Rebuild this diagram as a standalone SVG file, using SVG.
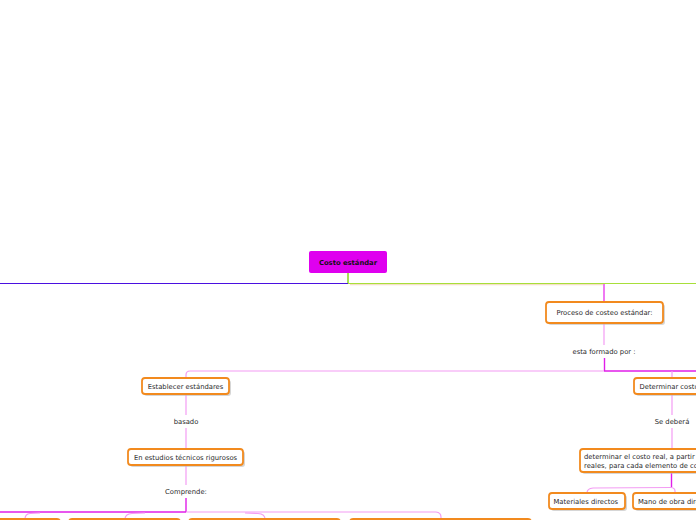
<svg xmlns="http://www.w3.org/2000/svg" width="696" height="520" viewBox="0 0 696 520">
<style>
.t{font-family:"DejaVu Sans",Verdana,sans-serif;font-size:6.8px;fill:#2a2a2a}
.c{text-anchor:middle}
.box{fill:#fff;stroke:#f28a1e;stroke-width:1.8}
.sh{fill:#bbb;opacity:0.6}
.pk{stroke:#f39cf3;stroke-width:1.2;fill:none}
.mg{stroke:#e01ee8;stroke-width:1.4;fill:none}
</style>
<rect width="696" height="520" fill="#fff"/>
<g id="connectors">
<line x1="348" y1="273" x2="348" y2="283" stroke="#8ad91a" stroke-width="1.5"/>
<line x1="0" y1="283.5" x2="348" y2="283.5" stroke="#4a10e0" stroke-width="1.1"/>
<line x1="348" y1="283.5" x2="696" y2="283.5" stroke="#a8df3a" stroke-width="1.1"/>
<line x1="350" y1="284.7" x2="603" y2="284.7" stroke="#ecc898" stroke-width="0.7"/>
<line x1="604" y1="284" x2="604" y2="302" stroke="#ea4cee" stroke-width="1.5"/>
<line x1="604" y1="323" x2="604" y2="345" class="pk"/>
<line x1="604.5" y1="358" x2="604.5" y2="371" class="mg"/>
<line x1="190" y1="371" x2="604" y2="371" class="pk"/>
<line x1="604" y1="371" x2="696" y2="371" class="mg"/>
<line x1="672" y1="371" x2="672" y2="378" class="pk"/>
<path d="M186 378 V375 Q186 371 190 371" class="pk"/>
<line x1="186" y1="394" x2="186" y2="415" class="pk"/>
<line x1="186" y1="428" x2="186" y2="449" class="pk"/>
<line x1="186" y1="465" x2="186" y2="485" class="pk"/>
<line x1="186" y1="498" x2="186" y2="512" class="mg"/>
<line x1="0" y1="512" x2="186" y2="512" class="mg"/>
<line x1="186" y1="512" x2="436" y2="512" class="pk"/>
<path d="M25 519 Q25 514 30 513.5 L40 513" class="pk"/>
<path d="M125 519 Q125 514 132 513.5 L145 513" class="pk"/>
<path d="M265 519 Q265 514 258 513.5 L245 513" class="pk"/>
<path d="M436 512 Q441 512.5 441 517 V519" class="pk"/>
<line x1="672" y1="394" x2="672" y2="415" class="pk"/>
<line x1="672" y1="428" x2="672" y2="449" class="pk"/>
<line x1="671.5" y1="472" x2="671.5" y2="487.5" class="mg"/>
<path d="M587 493 Q587 488.5 593 488 L671 487.5" class="pk"/>
<path d="M671 487.5 Q675 488 675 491 V493" class="pk"/>
</g>
<g id="root">
<rect x="309" y="251" width="78" height="22" rx="2" fill="#df00ef"/>
<text x="348" y="264.5" class="t c" style="font-weight:bold;fill:#111">Costo estándar</text>
</g>
<g id="proceso">
<rect x="548" y="304" width="117" height="21" rx="3" class="sh"/>
<rect x="546" y="302" width="117" height="21" rx="3" class="box"/>
<text x="604.5" y="315" class="t c">Proceso de costeo estándar:</text>
</g>
<g id="lbl-formado"><text x="604" y="353.5" class="t c">esta formado por :</text></g>
<g id="establecer">
<rect x="144" y="380" width="87" height="16" rx="3" class="sh"/>
<rect x="142" y="378" width="87" height="16" rx="3" class="box"/>
<text x="185.5" y="388.5" class="t c">Establecer estándares</text>
</g>
<g id="lbl-basado"><text x="186" y="423.5" class="t c">basado</text></g>
<g id="estudios">
<rect x="130" y="451" width="115" height="16" rx="3" class="sh"/>
<rect x="128" y="449" width="115" height="16" rx="3" class="box"/>
<text x="185.5" y="459.5" class="t c">En estudios técnicos rigurosos</text>
</g>
<g id="lbl-comprende"><text x="186" y="493.5" class="t c">Comprende:</text></g>
<g id="hijos-comprende">
<rect x="-10" y="519" width="70" height="20" rx="3" class="box"/>
<rect x="69" y="519" width="111" height="20" rx="3" class="box"/>
<rect x="189" y="519" width="151" height="20" rx="3" class="box"/>
<rect x="350" y="519" width="181" height="20" rx="3" class="box"/>
</g>
<g id="determinar">
<rect x="636" y="380" width="80" height="16" rx="3" class="sh"/>
<rect x="634" y="378" width="80" height="16" rx="3" class="box"/>
<text x="639.5" y="388.5" class="t">Determinar costo</text>
</g>
<g id="lbl-debera"><text x="672" y="423.5" class="t c">Se deberá</text></g>
<g id="costo-real">
<rect x="582" y="451" width="130" height="23" rx="3" class="sh"/>
<rect x="580" y="449" width="130" height="23" rx="3" class="box"/>
<text x="584" y="458.5" class="t">determinar el costo real, a partir</text>
<text x="584" y="467.5" class="t">reales, para cada elemento de costo</text>
</g>
<g id="materiales">
<rect x="551" y="495" width="76" height="16" rx="3" class="sh"/>
<rect x="549" y="493" width="76" height="16" rx="3" class="box"/>
<text x="553.5" y="503.5" class="t">Materiales directos</text>
</g>
<g id="mano-obra">
<rect x="635" y="495" width="80" height="16" rx="3" class="sh"/>
<rect x="633" y="493" width="80" height="16" rx="3" class="box"/>
<text x="638" y="503.5" class="t">Mano de obra directa</text>
</g>
</svg>
